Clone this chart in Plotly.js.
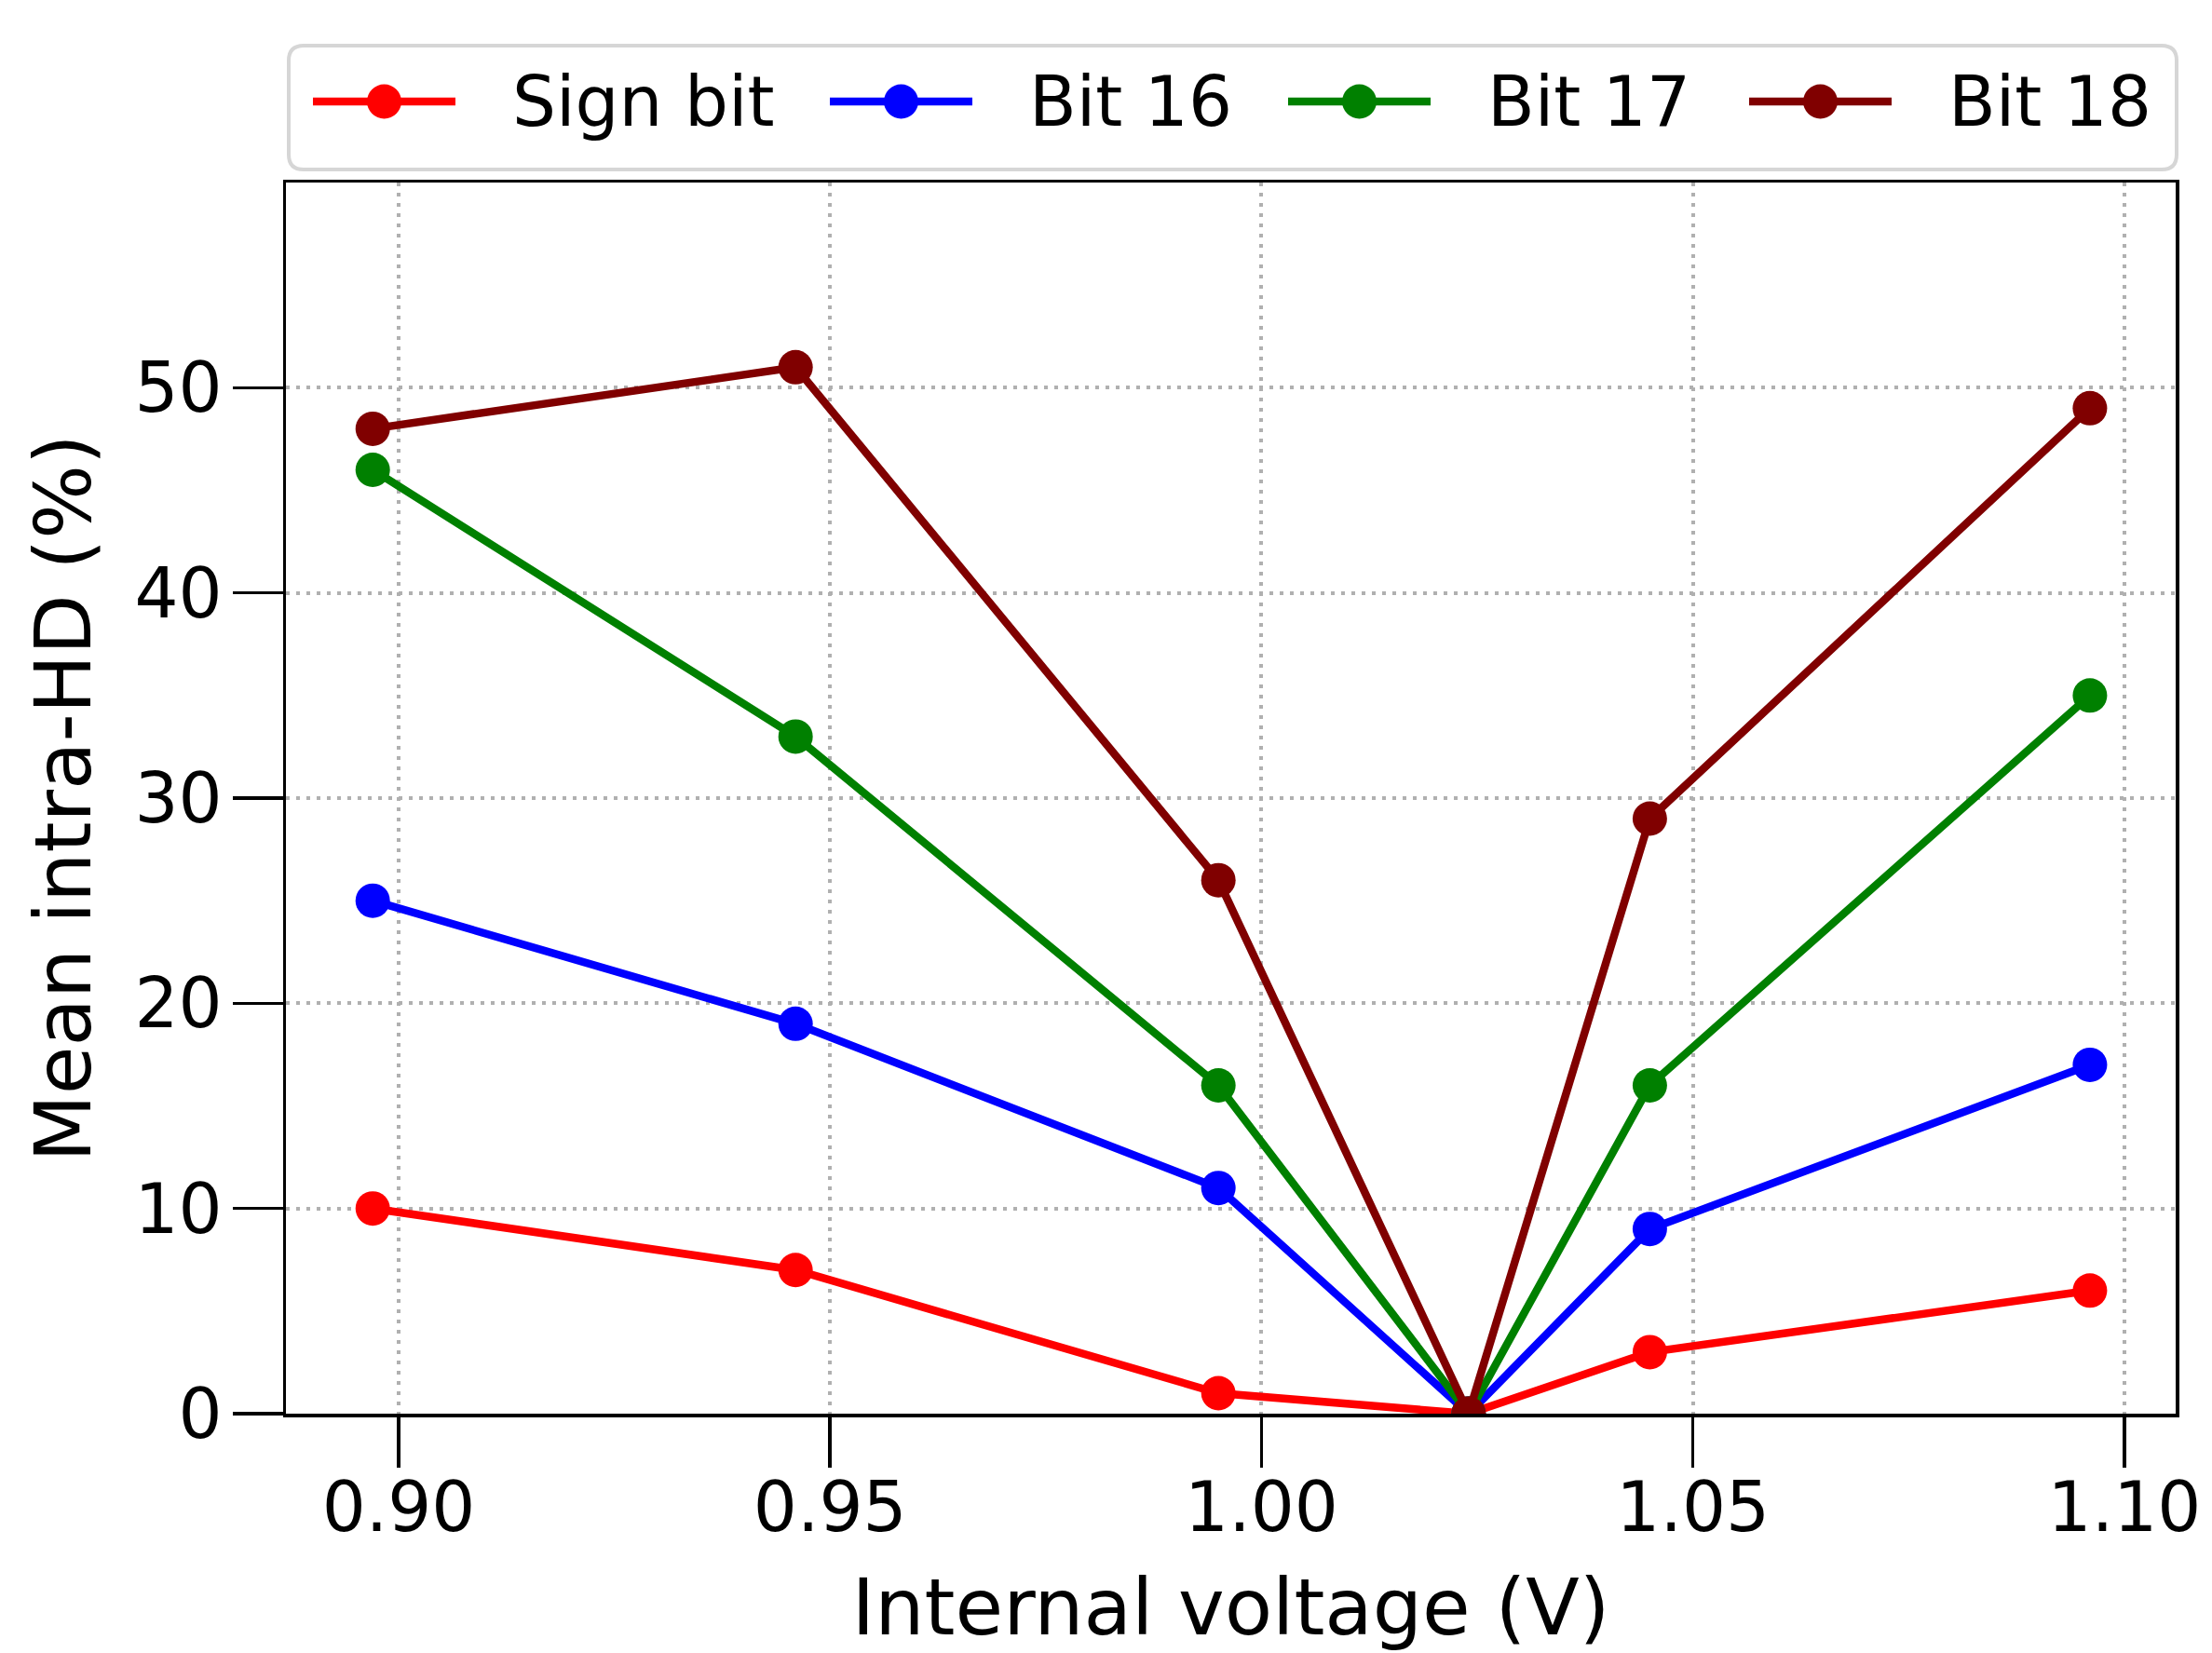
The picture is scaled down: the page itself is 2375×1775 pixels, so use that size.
<!DOCTYPE html>
<html>
<head>
<meta charset="utf-8">
<script src="https://cdn.plot.ly/plotly-3.0.1.min.js"></script>
<style>html,body{margin:0;padding:0;background:#fff;}</style>
</head>
<body>
<div id="chart" style="width:2375px;height:1775px;"></div>
<script>
// Data
const voltage = [0.897, 0.946, 0.995, 1.024, 1.045, 1.096];
const signBit = [10, 7, 1, 0, 3, 6];
const bit16 = [25, 19, 11, 0, 9, 17];
const bit17 = [46, 33, 16, 0, 16, 35];
const bit18 = [48, 51, 26, 0, 29, 49];
const seriesNames = ['Sign bit', 'Bit 16', 'Bit 17', 'Bit 18'];
const seriesColors = ['#ff0000', '#0000ff', '#008000', '#800000'];
const xTickVals = [0.90, 0.95, 1.00, 1.05, 1.10];
const xTickText = ['0.90', '0.95', '1.00', '1.05', '1.10'];
const yTickVals = [0, 10, 20, 30, 40, 50];
const yTickText = ['0', '10', '20', '30', '40', '50'];

const seriesValues = [signBit, bit16, bit17, bit18];
const FONT = 'DejaVu Sans, sans-serif';
const LINE_W = 8.5;

// Plot-area geometry (pixels)
const W = 2375, H = 1775;
const plotL = 307, plotR = 2336, plotT = 196, plotB = 1518;
const px2paperX = px => (px - plotL) / (plotR - plotL);
const px2paperY = py => (plotB - py) / (plotB - plotT);

const traces = seriesValues.map((vals, i) => ({
  type: 'scatter',
  mode: 'lines+markers',
  x: voltage,
  y: vals,
  name: seriesNames[i],
  line: {color: seriesColors[i], width: LINE_W},
  marker: {color: seriesColors[i], size: 37},
  cliponaxis: true,
  showlegend: false
}));

// Legend (matplotlib-style row above the axes)
const legendItemStart = [336, 891, 1383, 1878];
const legendLineLen = 153, legendTextOffset = 212, legendCenterY = 109;
const legendBox = {x0: 3, x1: 2030, y0: 14, y1: 147, r: 16}; // pixels relative to plot top-left, y upward
const b = legendBox;
const framePath = `M${b.x0 + b.r},${b.y1} L${b.x1 - b.r},${b.y1} Q${b.x1},${b.y1} ${b.x1},${b.y1 - b.r} ` +
  `L${b.x1},${b.y0 + b.r} Q${b.x1},${b.y0} ${b.x1 - b.r},${b.y0} L${b.x0 + b.r},${b.y0} ` +
  `Q${b.x0},${b.y0} ${b.x0},${b.y0 + b.r} L${b.x0},${b.y1 - b.r} Q${b.x0},${b.y1} ${b.x0 + b.r},${b.y1} Z`;

const shapes = [{
  type: 'path', xref: 'paper', yref: 'paper',
  xsizemode: 'pixel', ysizemode: 'pixel', xanchor: 0, yanchor: 1,
  path: framePath,
  fillcolor: '#ffffff', line: {color: '#d6d6d6', width: 4}
}];
const annotations = [];
seriesNames.forEach((name, i) => {
  const s = legendItemStart[i];
  shapes.push({
    type: 'line', xref: 'paper', yref: 'paper',
    x0: px2paperX(s), x1: px2paperX(s + legendLineLen),
    y0: px2paperY(legendCenterY), y1: px2paperY(legendCenterY),
    line: {color: seriesColors[i], width: LINE_W}
  });
  shapes.push({
    type: 'circle', xref: 'paper', yref: 'paper',
    xsizemode: 'pixel', ysizemode: 'pixel',
    xanchor: px2paperX(s + legendLineLen / 2), yanchor: px2paperY(legendCenterY),
    x0: -18.5, x1: 18.5, y0: -18.5, y1: 18.5,
    fillcolor: seriesColors[i], line: {width: 0}
  });
  annotations.push({
    text: name, xref: 'paper', yref: 'paper',
    x: px2paperX(s + legendTextOffset), y: px2paperY(legendCenterY),
    xanchor: 'left', yanchor: 'middle', showarrow: false,
    font: {family: FONT, size: 74, color: '#000'}
  });
});

const axisCommon = {
  showline: true,
  mirror: true,
  linecolor: '#000',
  linewidth: 3.5,
  ticks: 'outside',
  ticklen: 54,
  tickwidth: 3.5,
  tickcolor: '#000',
  showgrid: true,
  gridcolor: '#b0b0b0',
  gridwidth: 4,
  griddash: '4px,7px',
  zeroline: false,
  tickfont: {family: FONT, size: 74, color: '#000'}
};

const layout = {
  width: W,
  height: H,
  paper_bgcolor: '#fff',
  plot_bgcolor: '#fff',
  margin: {l: plotL, r: W - plotR, t: plotT, b: H - plotB},
  showlegend: false,
  shapes: shapes,
  annotations: annotations,
  xaxis: Object.assign({}, axisCommon, {
    range: [0.88694, 1.10594],
    tickmode: 'array',
    tickvals: xTickVals,
    ticktext: xTickText,
    ticklabelstandoff: -20,
    title: {text: 'Internal voltage (V)', font: {family: FONT, size: 84, color: '#000'}, standoff: 38}
  }),
  yaxis: Object.assign({}, axisCommon, {
    range: [0, 60],
    tickmode: 'array',
    tickvals: yTickVals,
    ticktext: yTickText,
    ticklabelstandoff: -4,
    title: {text: 'Mean intra-HD (%)', font: {family: FONT, size: 84, color: '#000'}, standoff: 20}
  })
};

Plotly.newPlot('chart', traces, layout, {displayModeBar: false, staticPlot: true});
</script>
</body>
</html>
